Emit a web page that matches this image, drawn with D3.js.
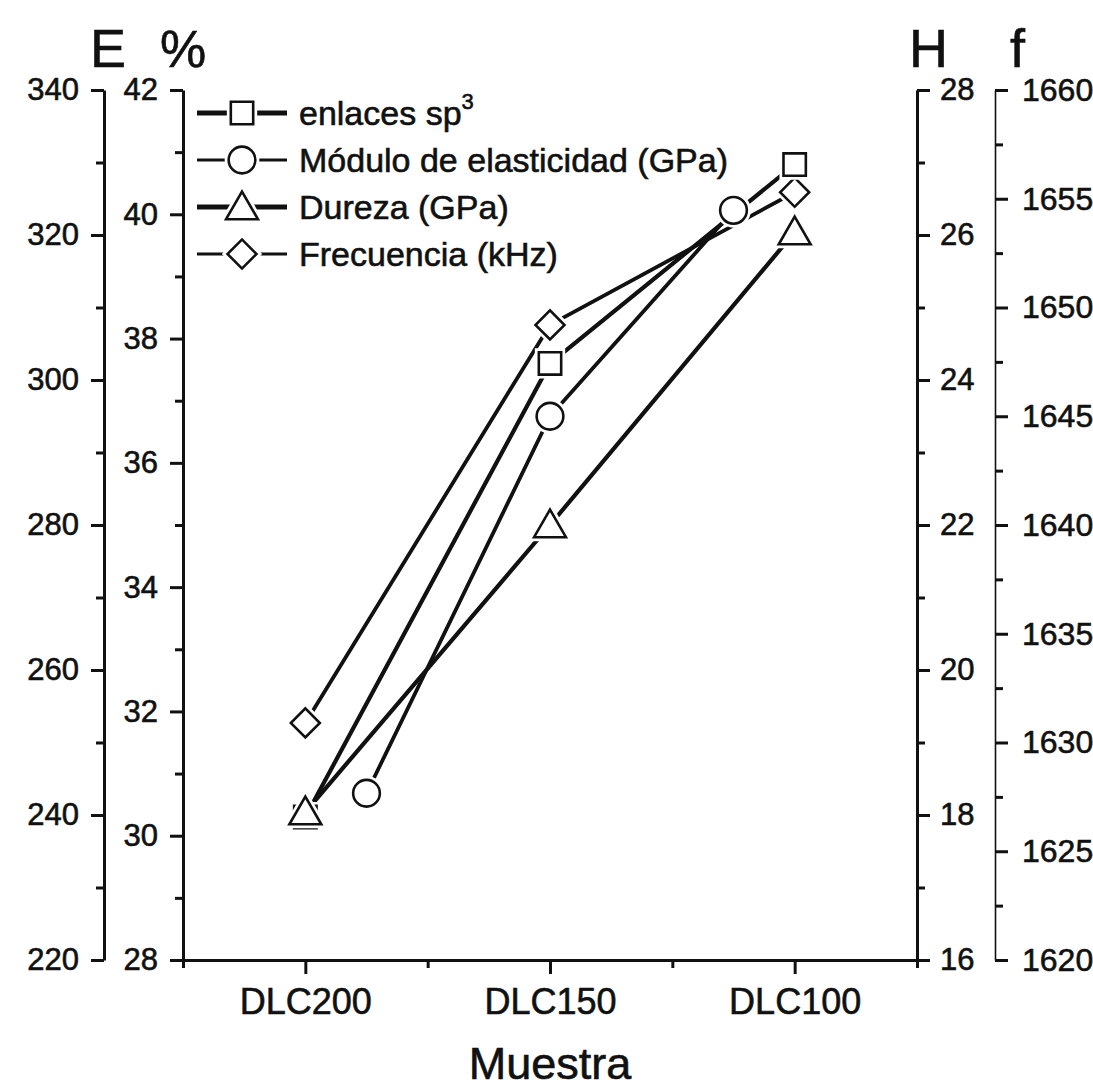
<!DOCTYPE html>
<html>
<head>
<meta charset="utf-8">
<script src="https://cdn.jsdelivr.net/npm/d3@7"></script>
<style>
  body { margin: 0; background: #fff; }
  svg text { font-family: "Liberation Sans", Arial, sans-serif; fill: #111; stroke: #111; stroke-width: 0.6px; }
  .axis path, .axis line { stroke: #111; }
</style>
</head>
<body>
<div id="chart"></div>
<script>
// valores
var categories = ["DLC200", "DLC150", "DLC100"];
var sp3Pct = [30.3, 37.6, 40.8];          // enlaces sp3 (%)
var moduloE = [243.0, 295.0, 323.4];      // Modulo de elasticidad (GPa)
var moduloPos = [0.25, 1.0, 1.75];        // los circulos quedan corridos de la categoria
var durezaH = [18.04, 22.0, 26.04];       // Dureza (GPa)
var frecF = [1630.9, 1649.2, 1655.3];     // Frecuencia (kHz)

var eTicks = d3.range(220, 341, 20);
var pctTicks = d3.range(28, 43, 2);
var hTicks = d3.range(16, 29, 2);
var fTicks = d3.range(1620, 1661, 5);

var width = 1093, height = 1091;
var plotTop = 90, plotBottom = 960, plotLeft = 183, plotRight = 917;

var svg = d3.select("#chart").append("svg")
  .attr("width", width)
  .attr("height", height);

var x = d3.scaleLinear().domain([-0.5, 2.5]).range([plotLeft, plotRight]);
var yPct = d3.scaleLinear().domain([28, 42]).range([plotBottom, plotTop]);
var yE = d3.scaleLinear().domain([220, 340]).range([plotBottom, plotTop]);
var yH = d3.scaleLinear().domain([16, 28]).range([plotBottom, plotTop]);
var yF = d3.scaleLinear().domain([1620, 1660]).range([plotBottom, plotTop]);

function drawAxis(axisFn, scale, pos, major, minor, pad, fs) {
  var g = svg.append("g").attr("class", "axis").attr("transform", pos);
  g.call(axisFn(scale).tickValues(minor).tickSize(8).tickSizeOuter(0).tickFormat(""));
  g.selectAll("path").remove();
  var g2 = svg.append("g").attr("class", "axis").attr("transform", pos);
  g2.call(axisFn(scale).tickValues(major).tickSize(13).tickSizeOuter(0).tickPadding(pad)
    .tickFormat(d3.format("d")));
  g2.selectAll("text").style("font-size", fs + "px");
  return g2;
}

function mid(arr, step) {
  return arr.slice(0, -1).map(function(v) { return v + step / 2; });
}

drawAxis(d3.axisLeft, yE, "translate(104,0)", eTicks, mid(eTicks, 20), 12, 31);
drawAxis(d3.axisLeft, yPct, "translate(" + plotLeft + ",0)", pctTicks, mid(pctTicks, 2), 12, 31);
drawAxis(d3.axisRight, yH, "translate(" + plotRight + ",0)", hTicks, mid(hTicks, 2), 10, 31);
var fAxis = drawAxis(d3.axisRight, yF, "translate(995,0)", fTicks, mid(fTicks, 5), 14, 32);

// eje x
var gx = svg.append("g").attr("class", "axis").attr("transform", "translate(0," + plotBottom + ")");
gx.call(d3.axisBottom(x).tickValues([-0.5, 0.5, 1.5, 2.5]).tickSize(8).tickSizeOuter(0).tickFormat(""));
var gx2 = svg.append("g").attr("class", "axis").attr("transform", "translate(0," + plotBottom + ")");
gx2.call(d3.axisBottom(x).tickValues([0, 1, 2]).tickSize(14).tickSizeOuter(0).tickPadding(14)
  .tickFormat(function(d) { return categories[d]; }));
gx2.selectAll("text").style("font-size", "36px");

svg.selectAll(".axis path").attr("stroke-width", 3);
svg.selectAll(".axis line").attr("stroke-width", 3);
fAxis.select("path").attr("stroke", "#666").attr("stroke-width", 1.6);

svg.append("text").attr("x", 550).attr("y", 1079).attr("text-anchor", "middle")
  .style("font-size", "45px").text("Muestra");

// titulos de los ejes
svg.append("text").attr("x", 90).attr("y", 67).style("font-size", "54px").text("E");
svg.append("text").attr("x", 160).attr("y", 67).style("font-size", "52px").text("%");
svg.append("text").attr("x", 909).attr("y", 67).style("font-size", "54px").text("H");
svg.append("text").attr("x", 1010).attr("y", 67).style("font-size", "54px").text("f");

// simbolos
var symSquare = d3.symbol().type(d3.symbolSquare).size(500);
var symCircle = d3.symbol().type(d3.symbolCircle).size(560);
var symTriangle = d3.symbol().type(d3.symbolTriangle).size(440);
var symDiamond = d3.symbol().type(d3.symbolSquare).size(420);

var series = [
  { name: "enlaces sp", sup: "3", vals: sp3Pct, pos: [0, 1, 2], y: yPct, sym: symSquare, rot: 0, lw: 4.2, lgw: 5 },
  { name: "Módulo de elasticidad (GPa)", vals: moduloE, pos: moduloPos, y: yE, sym: symCircle, rot: 0, lw: 3.8, lgw: 3 },
  { name: "Dureza (GPa)", vals: durezaH, pos: [0, 1, 2], y: yH, sym: symTriangle, rot: 0, lw: 4.2, lgw: 5 },
  { name: "Frecuencia (kHz)", vals: frecF, pos: [0, 1, 2], y: yF, sym: symDiamond, rot: 45, lw: 3.8, lgw: 3 }
];

var line = d3.line();

series.forEach(function(s) {
  var pts = s.vals.map(function(v, i) { return [x(s.pos[i]), s.y(v)]; });
  svg.append("path")
    .attr("d", line(pts))
    .attr("fill", "none")
    .attr("stroke", "#111")
    .attr("stroke-width", s.lw);
});

// marcadores con halo blanco (hueco de la linea)
function marker(g, s, px, py) {
  var ty = s.sym === symTriangle ? 3 : 0;
  g.append("path")
    .attr("d", s.sym())
    .attr("transform", "translate(" + px + "," + (py + ty) + ") rotate(" + s.rot + ")")
    .attr("fill", "#fff")
    .attr("stroke", "#fff")
    .attr("stroke-width", 8);
  g.append("path")
    .attr("d", s.sym())
    .attr("transform", "translate(" + px + "," + (py + ty) + ") rotate(" + s.rot + ")")
    .attr("fill", "#fff")
    .attr("stroke", "#111")
    .attr("stroke-width", 2.6);
}

var order = [3, 1, 0, 2];
order.forEach(function(k) {
  var s = series[k];
  var g = svg.append("g");
  s.vals.forEach(function(v, i) { marker(g, s, x(s.pos[i]), s.y(v)); });
});

// leyenda
var leg = svg.append("g").attr("transform", "translate(197,113)");
series.forEach(function(s, i) {
  var row = leg.append("g").attr("transform", "translate(0," + (i * 47) + ")");
  row.append("line").attr("x1", 0).attr("x2", 90).attr("y1", 0).attr("y2", 0)
    .attr("stroke", "#111").attr("stroke-width", s.lgw);
  marker(row, s, 45, 0);
  var t = row.append("text").attr("x", 102).attr("y", 12).style("font-size", "34px").text(s.name);
  if (s.sup) {
    t.append("tspan").attr("dy", -16).style("font-size", "22px").text(s.sup);
  }
});
</script>
</body>
</html>
